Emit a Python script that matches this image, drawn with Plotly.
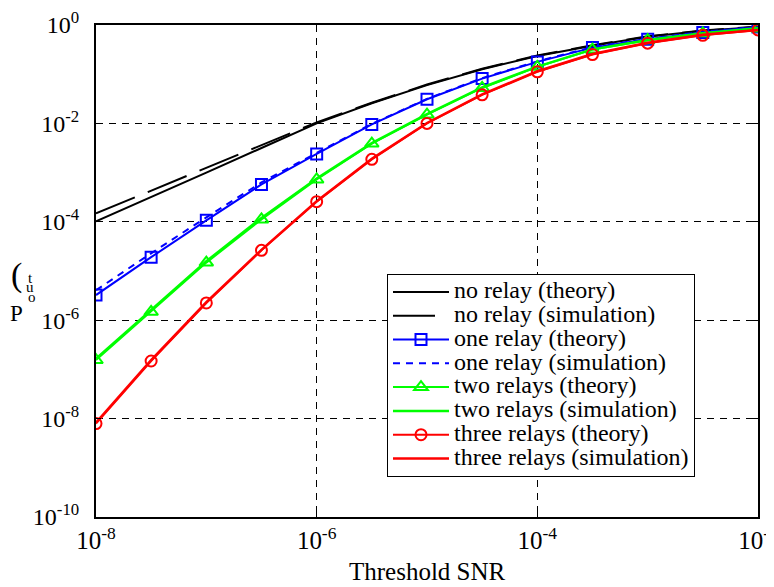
import plotly.graph_objects as go

# Threshold SNR (x) at half-decade steps
snr = [1e-8, 3.16e-8, 1e-7, 3.16e-7, 1e-6, 3.16e-6, 1e-5, 3.16e-5, 1e-4, 3.16e-4, 1e-3, 3.16e-3, 1e-2]

no_relay_theory = [1.02e-4, 3.16e-4, 1.0e-3, 3.16e-3, 1.0e-2, 2.57e-2, 6.0e-2, 0.126, 0.234, 0.38, 0.575, 0.76, 0.91]
no_relay_sim = [1.48e-4, 4.27e-4, 1.26e-3, 3.63e-3, 1.05e-2, 2.63e-2, 6.17e-2, 0.129, 0.240, 0.389, 0.589, 0.776, 0.933]
one_relay_theory = [3.24e-6, 1.91e-5, 1.07e-4, 5.75e-4, 2.40e-3, 9.55e-3, 3.09e-2, 8.13e-2, 0.178, 0.347, 0.513, 0.708, 0.912]
one_relay_sim = [4.07e-6, 2.29e-5, 1.23e-4, 6.31e-4, 2.51e-3, 9.77e-3, 3.16e-2, 8.32e-2, 0.182, 0.355, 0.525, 0.724, 0.912]
two_relays_theory = [1.55e-7, 1.48e-6, 1.48e-5, 1.12e-4, 7.24e-4, 3.89e-3, 1.51e-2, 5.25e-2, 0.141, 0.316, 0.490, 0.676, 0.851]
two_relays_sim = [1.66e-7, 1.62e-6, 1.58e-5, 1.20e-4, 7.59e-4, 3.98e-3, 1.55e-2, 5.37e-2, 0.143, 0.32, 0.495, 0.68, 0.855]
three_relays_theory = [7.94e-9, 1.48e-7, 2.24e-6, 2.63e-5, 2.57e-4, 1.86e-3, 1.0e-2, 3.80e-2, 0.112, 0.251, 0.427, 0.617, 0.794]
three_relays_sim = [8.32e-9, 1.55e-7, 2.34e-6, 2.69e-5, 2.63e-4, 1.91e-3, 1.02e-2, 3.89e-2, 0.115, 0.257, 0.437, 0.631, 0.794]

series_names = ["no relay (theory)", "no relay (simulation)", "one relay (theory)", "one relay (simulation)",
                "two relays (theory)", "two relays (simulation)", "three relays (theory)", "three relays (simulation)"]

x_tickvals = [1e-8, 1e-6, 1e-4, 1e-2]
x_ticktext = ["10<sup>-8</sup>", "10<sup>-6</sup>", "10<sup>-4</sup>", "10<sup>-2</sup>"]
y_tickvals = [1e-10, 1e-8, 1e-6, 1e-4, 1e-2, 1e0]
y_ticktext = ["10<sup>-10</sup>", "10<sup>-8</sup>", "10<sup>-6</sup>", "10<sup>-4</sup>", "10<sup>-2</sup>", "10<sup>0</sup>"]

SERIF = "Liberation Serif, Times New Roman, serif"


def lg(name):
    # larger glyphs than the legend's row-spacing font (MATLAB-style tight legend)
    return '<span style="font-family:Liberation Serif,serif;font-size:24px">' + name + '</span>'


fig = go.Figure()
fig.add_trace(go.Scatter(x=snr, y=no_relay_theory, mode="lines", name=lg(series_names[0]),
                         line=dict(color="black", width=2)))
fig.add_trace(go.Scatter(x=snr, y=no_relay_sim, mode="lines", name=lg(series_names[1]),
                         line=dict(color="black", width=2, dash="42px,14px")))
fig.add_trace(go.Scatter(x=snr, y=one_relay_theory, mode="lines+markers", name=lg(series_names[2]),
                         line=dict(color="#0000FF", width=2),
                         marker=dict(symbol="square-open", size=11, color="#0000FF", line=dict(width=2, color="#0000FF"))))
fig.add_trace(go.Scatter(x=snr, y=one_relay_sim, mode="lines", name=lg(series_names[3]),
                         line=dict(color="#0000FF", width=2, dash="7px,6px")))
fig.add_trace(go.Scatter(x=snr, y=two_relays_theory, mode="lines+markers", name=lg(series_names[4]),
                         line=dict(color="#00FF00", width=2),
                         marker=dict(symbol="triangle-up-open", size=12, color="#00FF00", line=dict(width=2, color="#00FF00"))))
fig.add_trace(go.Scatter(x=snr, y=two_relays_sim, mode="lines", name=lg(series_names[5]),
                         line=dict(color="#00FF00", width=2.5)))
fig.add_trace(go.Scatter(x=snr, y=three_relays_theory, mode="lines+markers", name=lg(series_names[6]),
                         line=dict(color="#FF0000", width=2),
                         marker=dict(symbol="circle-open", size=11, color="#FF0000", line=dict(width=2, color="#FF0000"))))
fig.add_trace(go.Scatter(x=snr, y=three_relays_sim, mode="lines", name=lg(series_names[7]),
                         line=dict(color="#FF0000", width=2.5)))

axis_common = dict(
    showline=True, linecolor="black", linewidth=2, mirror="ticks",
    ticks="inside", ticklen=5, tickwidth=1, tickcolor="black",
    showgrid=True, gridcolor="black", gridwidth=1, griddash="7px,6px",
    zeroline=False, automargin=False, ticklabeloverflow="allow",
)

fig.update_xaxes(type="log", range=[-8, -2], tickvals=x_tickvals, ticktext=x_ticktext,
                 tickfont=dict(family=SERIF, size=25, color="black"), **axis_common)
fig.update_yaxes(type="log", range=[-10, 0], tickvals=y_tickvals, ticktext=y_ticktext,
                 tickfont=dict(family=SERIF, size=24, color="black"),
                 ticklabelstandoff=10, **axis_common)

# plot area in page pixels: x 96..758, y 25..517 (page has an 8px body margin)
PX0, PW, PY1, PH = 96, 662, 517, 492

# y-axis label (P with stacked subscript, as rendered in the original)
ylab = [("P", 16, 313, 23), ("t", 30, 278, 15), ("u", 30, 287, 15), ("o", 32, 297, 15), ("(", 16, 275, 34)]
for txt, px, py, fs in ylab:
    fig.add_annotation(text=txt, xref="paper", yref="paper",
                       x=(px - PX0) / PW, y=(PY1 - py) / PH,
                       xanchor="center", yanchor="middle", showarrow=False,
                       font=dict(family=SERIF, size=fs, color="black"))

fig.add_annotation(text="Threshold SNR", xref="paper", yref="paper", x=0.5, y=(PY1 - 571) / PH,
                   xanchor="center", yanchor="middle", showarrow=False,
                   font=dict(family=SERIF, size=25, color="black"))

fig.update_layout(
    width=766, height=579,
    margin=dict(l=88, r=16, t=17, b=70),
    plot_bgcolor="white", paper_bgcolor="white",
    showlegend=True,
    legend=dict(x=(387 - PX0) / PW, y=(PY1 - 274) / PH, xanchor="left", yanchor="top",
                bgcolor="white", bordercolor="black", borderwidth=1,
                font=dict(family=SERIF, size=16, color="black"),
                itemwidth=56, tracegroupgap=0),
)

fig.write_html("out.html")
